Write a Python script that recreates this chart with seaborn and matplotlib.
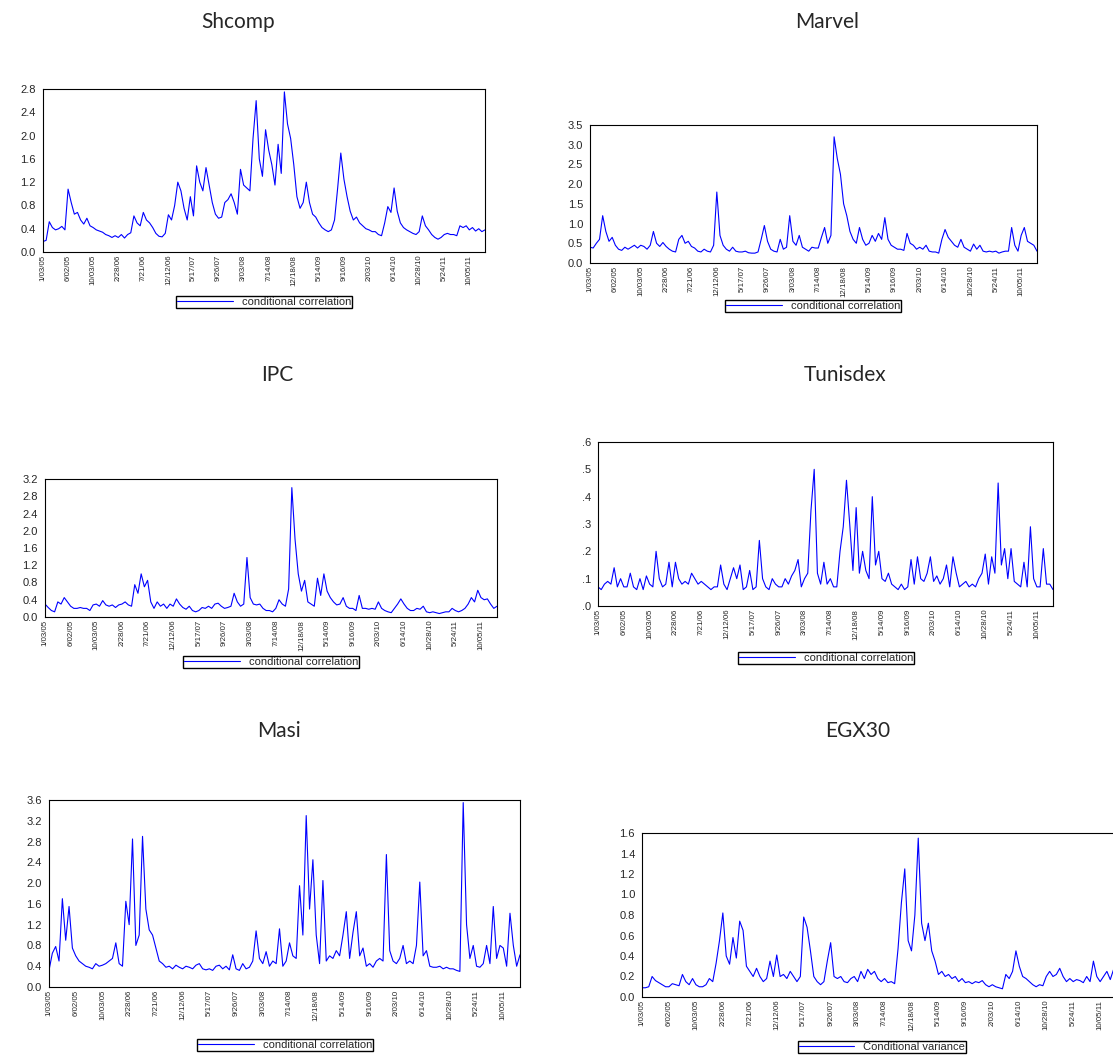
import numpy as np
import pandas as pd
import seaborn as sns
import matplotlib.pyplot as plt

# tick labels shared by all panels (one every 8 observations)
date_labels = ["1/03/05", "6/02/05", "10/03/05", "2/28/06", "7/21/06", "12/12/06",
               "5/17/07", "9/26/07", "3/03/08", "7/14/08", "12/18/08", "5/14/09",
               "9/16/09", "2/03/10", "6/14/10", "10/28/10", "5/24/11", "10/05/11"]

shcomp = [0.18, 0.20, 0.52, 0.42, 0.38, 0.40, 0.44, 0.38,
          1.08, 0.85, 0.65, 0.68, 0.55, 0.48, 0.58, 0.45,
          0.42, 0.38, 0.36, 0.34, 0.30, 0.28, 0.25, 0.28,
          0.25, 0.30, 0.24, 0.30, 0.33, 0.62, 0.50, 0.45,
          0.68, 0.55, 0.50, 0.42, 0.32, 0.27, 0.26, 0.32,
          0.64, 0.55, 0.80, 1.20, 1.05, 0.75, 0.55, 0.95,
          0.62, 1.48, 1.20, 1.05, 1.45, 1.15, 0.85, 0.65,
          0.58, 0.60, 0.85, 0.90, 1.00, 0.85, 0.65, 1.42,
          1.15, 1.10, 1.05, 1.95, 2.60, 1.60, 1.30, 2.10,
          1.75, 1.50, 1.15, 1.85, 1.35, 2.75, 2.20, 1.95,
          1.50, 0.95, 0.75, 0.85, 1.20, 0.85, 0.65, 0.60,
          0.50, 0.42, 0.38, 0.35, 0.38, 0.55, 1.10, 1.70,
          1.25, 0.95, 0.70, 0.55, 0.60, 0.50, 0.45, 0.40,
          0.38, 0.35, 0.35, 0.30, 0.28, 0.50, 0.78, 0.68,
          1.10, 0.70, 0.50, 0.42, 0.38, 0.35, 0.32, 0.30,
          0.35, 0.62, 0.45, 0.38, 0.30, 0.25, 0.22, 0.25,
          0.30, 0.32, 0.30, 0.30, 0.28, 0.45, 0.42, 0.45,
          0.38, 0.42, 0.36, 0.40, 0.35, 0.38]

marvel = [0.40, 0.38, 0.50, 0.60, 1.20, 0.80, 0.55, 0.65,
          0.45, 0.35, 0.32, 0.40, 0.35, 0.40, 0.45, 0.38,
          0.45, 0.42, 0.35, 0.45, 0.80, 0.50, 0.42, 0.52,
          0.42, 0.35, 0.30, 0.28, 0.60, 0.70, 0.50, 0.55,
          0.42, 0.38, 0.30, 0.28, 0.35, 0.30, 0.28, 0.45,
          1.80, 0.70, 0.45, 0.35, 0.30, 0.40, 0.30, 0.28,
          0.28, 0.30, 0.26, 0.25, 0.25, 0.28, 0.60, 0.95,
          0.55, 0.35, 0.30, 0.28, 0.60, 0.35, 0.40, 1.20,
          0.55, 0.45, 0.70, 0.40, 0.35, 0.30, 0.40, 0.38,
          0.38, 0.65, 0.90, 0.50, 0.70, 3.20, 2.65, 2.25,
          1.50, 1.20, 0.80, 0.60, 0.50, 0.90, 0.60, 0.45,
          0.50, 0.70, 0.55, 0.75, 0.60, 1.15, 0.60, 0.45,
          0.40, 0.35, 0.35, 0.32, 0.75, 0.50, 0.45, 0.35,
          0.40, 0.35, 0.45, 0.30, 0.28, 0.28, 0.25, 0.60,
          0.85, 0.65, 0.55, 0.45, 0.40, 0.60, 0.40, 0.35,
          0.30, 0.48, 0.35, 0.45, 0.30, 0.28, 0.30, 0.28,
          0.30, 0.25, 0.28, 0.30, 0.30, 0.90, 0.45, 0.30,
          0.70, 0.90, 0.55, 0.50, 0.45, 0.30]

ipc = [0.30, 0.22, 0.15, 0.12, 0.35, 0.30, 0.45, 0.35,
       0.25, 0.20, 0.20, 0.22, 0.20, 0.20, 0.15, 0.28,
       0.30, 0.25, 0.38, 0.28, 0.25, 0.28, 0.22, 0.28,
       0.30, 0.35, 0.28, 0.25, 0.75, 0.55, 1.00, 0.70,
       0.85, 0.35, 0.20, 0.35, 0.25, 0.30, 0.20, 0.30,
       0.25, 0.42, 0.30, 0.22, 0.18, 0.25, 0.15, 0.12,
       0.15, 0.22, 0.20, 0.25, 0.20, 0.30, 0.32, 0.25,
       0.20, 0.22, 0.25, 0.55, 0.35, 0.25, 0.30, 1.38,
       0.45, 0.30, 0.28, 0.30, 0.20, 0.15, 0.15, 0.12,
       0.20, 0.40, 0.30, 0.25, 0.65, 3.00, 1.80, 1.00,
       0.60, 0.85, 0.35, 0.30, 0.25, 0.90, 0.50, 1.00,
       0.60, 0.45, 0.35, 0.28, 0.30, 0.45, 0.25, 0.20,
       0.20, 0.15, 0.50, 0.20, 0.20, 0.18, 0.20, 0.18,
       0.35, 0.20, 0.15, 0.12, 0.10, 0.20, 0.30, 0.42,
       0.30, 0.20, 0.15, 0.15, 0.20, 0.18, 0.25, 0.12,
       0.10, 0.12, 0.10, 0.08, 0.10, 0.12, 0.12, 0.20,
       0.15, 0.12, 0.15, 0.20, 0.30, 0.45, 0.35, 0.62,
       0.45, 0.40, 0.42, 0.30, 0.20, 0.25]

tunisdex = [0.07, 0.06, 0.08, 0.09, 0.08, 0.14, 0.07, 0.10,
            0.07, 0.07, 0.12, 0.07, 0.06, 0.10, 0.06, 0.11,
            0.08, 0.07, 0.20, 0.10, 0.07, 0.08, 0.16, 0.07,
            0.16, 0.10, 0.08, 0.09, 0.08, 0.12, 0.10, 0.08,
            0.09, 0.08, 0.07, 0.06, 0.07, 0.07, 0.15, 0.08,
            0.06, 0.10, 0.14, 0.10, 0.15, 0.06, 0.07, 0.13,
            0.06, 0.07, 0.24, 0.10, 0.07, 0.06, 0.10, 0.08,
            0.07, 0.07, 0.10, 0.08, 0.11, 0.13, 0.17, 0.07,
            0.10, 0.12, 0.35, 0.50, 0.12, 0.08, 0.16, 0.08,
            0.10, 0.07, 0.07, 0.20, 0.29, 0.46, 0.30, 0.13,
            0.36, 0.12, 0.20, 0.13, 0.10, 0.40, 0.15, 0.20,
            0.10, 0.09, 0.12, 0.08, 0.07, 0.06, 0.08, 0.06,
            0.07, 0.17, 0.08, 0.18, 0.10, 0.09, 0.12, 0.18,
            0.09, 0.11, 0.08, 0.10, 0.15, 0.07, 0.18, 0.12,
            0.07, 0.08, 0.09, 0.07, 0.08, 0.07, 0.10, 0.12,
            0.19, 0.08, 0.18, 0.12, 0.45, 0.15, 0.21, 0.10,
            0.21, 0.09, 0.08, 0.07, 0.16, 0.07, 0.29, 0.10,
            0.07, 0.07, 0.21, 0.08, 0.08, 0.06]

masi = [0.32, 0.65, 0.78, 0.50, 1.70, 0.90, 1.55, 0.75,
        0.60, 0.50, 0.45, 0.40, 0.38, 0.35, 0.45, 0.40,
        0.42, 0.45, 0.50, 0.55, 0.85, 0.45, 0.40, 1.65,
        1.20, 2.85, 0.80, 1.00, 2.90, 1.50, 1.10, 1.00,
        0.75, 0.50, 0.45, 0.38, 0.40, 0.35, 0.42, 0.38,
        0.35, 0.40, 0.38, 0.35, 0.42, 0.45, 0.35, 0.33,
        0.35, 0.32, 0.40, 0.42, 0.35, 0.40, 0.33, 0.62,
        0.35, 0.32, 0.45, 0.35, 0.38, 0.50, 1.08, 0.55,
        0.45, 0.68, 0.40, 0.50, 0.45, 1.12, 0.40, 0.50,
        0.85, 0.60, 0.55, 1.95, 1.00, 3.30, 1.50, 2.45,
        1.00, 0.45, 2.05, 0.50, 0.60, 0.55, 0.70, 0.60,
        1.00, 1.45, 0.55, 1.05, 1.45, 0.60, 0.75, 0.40,
        0.45, 0.38, 0.50, 0.55, 0.50, 2.55, 0.70, 0.50,
        0.45, 0.55, 0.80, 0.45, 0.50, 0.45, 0.80, 2.02,
        0.60, 0.70, 0.40, 0.38, 0.38, 0.40, 0.35, 0.38,
        0.35, 0.35, 0.32, 0.30, 3.55, 1.20, 0.55, 0.80,
        0.40, 0.38, 0.45, 0.80, 0.45, 1.55, 0.55, 0.80,
        0.75, 0.40, 1.42, 0.80, 0.40, 0.62]

egx30 = [0.09, 0.09, 0.10, 0.20, 0.16, 0.14, 0.12, 0.10,
         0.10, 0.13, 0.12, 0.11, 0.22, 0.15, 0.12, 0.18,
         0.12, 0.10, 0.10, 0.12, 0.18, 0.15, 0.33, 0.55,
         0.82, 0.40, 0.32, 0.58, 0.38, 0.74, 0.65, 0.30,
         0.25, 0.20, 0.28, 0.20, 0.15, 0.18, 0.35, 0.20,
         0.41, 0.20, 0.22, 0.18, 0.25, 0.20, 0.15, 0.20,
         0.78, 0.68, 0.45, 0.20, 0.15, 0.12, 0.15, 0.35,
         0.53, 0.20, 0.18, 0.20, 0.15, 0.14, 0.18, 0.20,
         0.15, 0.25, 0.18, 0.27, 0.22, 0.25, 0.18, 0.15,
         0.18, 0.14, 0.15, 0.13, 0.47, 0.92, 1.25, 0.55,
         0.45, 0.80, 1.55, 0.72, 0.55, 0.72, 0.45, 0.35,
         0.22, 0.25, 0.20, 0.22, 0.18, 0.20, 0.15, 0.18,
         0.14, 0.15, 0.13, 0.15, 0.14, 0.16, 0.12, 0.10,
         0.12, 0.10, 0.09, 0.08, 0.22, 0.18, 0.25, 0.45,
         0.30, 0.20, 0.18, 0.15, 0.12, 0.10, 0.12, 0.11,
         0.20, 0.25, 0.20, 0.22, 0.28, 0.20, 0.15, 0.18,
         0.15, 0.17, 0.16, 0.14, 0.20, 0.15, 0.35, 0.20,
         0.15, 0.20, 0.25, 0.17, 0.27, 0.15]

sns.set_style("white")
plt.rcParams['font.family'] = ['Liberation Sans', 'DejaVu Sans']

W, H = 1113, 1055
fig = plt.figure(figsize=(W / 100, H / 100), dpi=100)

# name, values, axes box (left, top, right, bottom) px, title xy, legend xy, y ticks, legend text
paneles = [
    ("Shcomp", shcomp, (43, 89, 485, 252), (238, 22), (264, 302), np.arange(0, 2.81, 0.4), "%.1f", "conditional correlation"),
    ("Marvel", marvel, (590, 125, 1037, 263), (827, 22), (813, 306), np.arange(0, 3.51, 0.5), "%.1f", "conditional correlation"),
    ("IPC", ipc, (45, 479, 497, 617), (277, 375), (271, 662), np.arange(0, 3.21, 0.4), "%.1f", "conditional correlation"),
    ("Tunisdex", tunisdex, (598, 442, 1053, 606), (845, 375), (826, 658), np.arange(0, 0.61, 0.1), "dot", "conditional correlation"),
    ("Masi", masi, (49, 800, 520, 987), (279, 731), (285, 1045), np.arange(0, 3.61, 0.4), "%.1f", "conditional correlation"),
    ("EGX30", egx30, (642, 833, 1117, 997), (858, 731), (882, 1047), np.arange(0, 1.61, 0.2), "%.1f", "Conditional variance"),
]

for nombre, valores, (l, t, r, b), (tx, ty), (lx, ly), yt, fmt, etiqueta in paneles:
    ax = fig.add_axes([l / W, 1 - b / H, (r - l) / W, (b - t) / H])
    df = pd.DataFrame({'obs': np.arange(len(valores)), 'valor': valores})
    sns.lineplot(data=df, x='obs', y='valor', ax=ax, color=(0, 0, 1),
                 linewidth=0.8, label=etiqueta)
    ax.set_xlim(0, len(valores) - 1)
    ax.set_ylim(yt[0], yt[-1])
    ax.set_yticks(yt)
    if fmt == "dot":
        ax.set_yticklabels(["." + str(int(round(v * 10))) for v in yt])
    else:
        ax.set_yticklabels([fmt % v for v in yt])
    ax.set_xticks(np.arange(0, 8 * len(date_labels), 8))
    ax.set_xticklabels(date_labels, rotation=90, fontsize=5.7)
    ax.set_xlabel('')
    ax.set_ylabel('')
    ax.tick_params(axis='y', direction='out', length=3, width=0.6, labelsize=8, pad=2)
    ax.tick_params(axis='x', direction='in', length=3, width=0.6, pad=2)
    for s in ax.spines.values():
        s.set_color('black')
        s.set_linewidth(0.8)
    ax.legend(loc='center', bbox_to_anchor=(lx / W, 1 - ly / H), bbox_transform=fig.transFigure,
              frameon=True, fancybox=False, edgecolor='black', framealpha=1,
              fontsize=8, handlelength=5, borderpad=0.12, borderaxespad=0,
              handletextpad=0.8)
    fig.text(tx / W, 1 - ty / H, nombre, ha='center', va='center', fontsize=15,
             family=['Lato', 'DejaVu Sans'])

plt.savefig('out.png', dpi=100)
